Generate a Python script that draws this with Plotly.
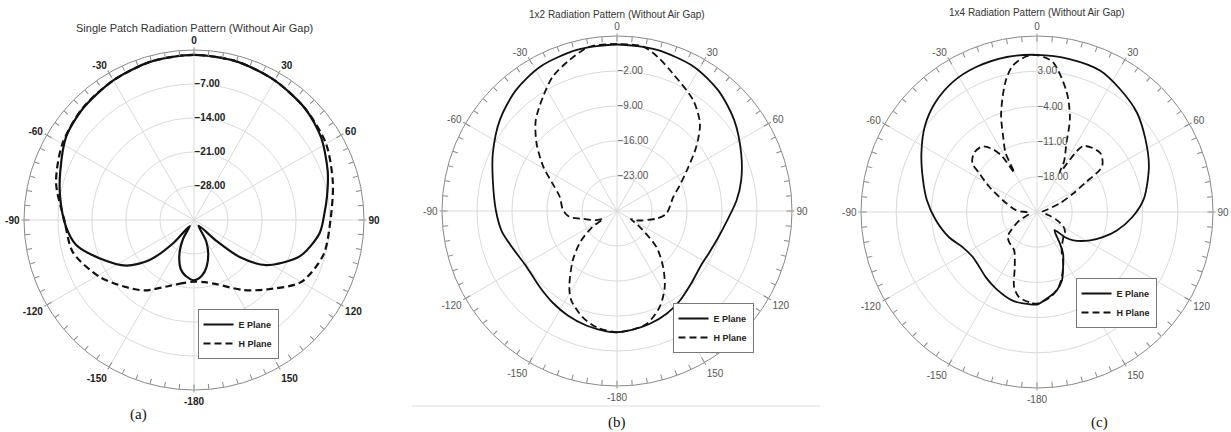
import plotly.graph_objects as go

# ---------------- data ----------------
ANG_MAJOR = [0, 30, 60, 90, 120, 150, 180, 210, 240, 270, 300, 330]
ANG_LABELS = ["0", "30", "60", "90", "120", "150", "-180", "-150", "-120", "-90", "-60", "-30"]
ANG_MINOR = list(range(0, 360, 5))

TITLES = ["Single Patch Radiation Pattern (Without Air Gap)",
          "1x2 Radiation Pattern (Without Air Gap)",
          "1x4 Radiation Pattern (Without Air Gap)"]
CAPTIONS = ["(a)", "(b)", "(c)"]
SERIES_NAMES = ["E Plane", "H Plane"]

# (a) single patch
A_RANGE = [-35, 0]
A_RTICKS = [-28, -21, -14, -7]
A_E_THETA = [-180, -172, -165, -157, -150, -144, -138, -132, -124, -112, -102, -93, -80, -70, -57,
             -45, -30, -15, 0, 15, 30, 45, 57, 70, 80, 87, 96, 109, 122, 129, 133, 141, 150, 157,
             165, 172, 180]
A_E_R = [-22.6, -23.3, -24.5, -27.3, -30.5, -33.5, -28.5, -22.7, -18.2, -14.0, -10.2, -8.6, -7.0,
         -5.7, -3.6, -2.6, -1.8, -1.2, -1.0, -1.2, -1.8, -2.6, -3.8, -5.7, -7.2, -8.1, -9.0, -12.0,
         -17.5, -22.9, -28.8, -33.5, -30.0, -27.5, -25.0, -23.4, -22.6]
A_H_THETA = [-180, -170, -160, -145, -133, -121, -105, -90, -75, -60, -45, -30, -15, 0, 15, 30, 45,
             60, 75, 90, 105, 120, 134, 145, 160, 170, 180]
A_H_R = [-22.3, -21.8, -20.6, -17.3, -15.0, -12.3, -9.2, -8.3, -5.6, -3.7, -2.5, -1.8, -1.2, -1.0,
         -1.2, -1.8, -2.6, -3.6, -5.4, -6.9, -7.4, -9.5, -14.4, -17.4, -20.9, -22.0, -22.3]

# (b) 1x2 array
B_RANGE = [-30, 5]
B_RTICKS = [-23, -16, -9, -2]
B_E_THETA = [-180, -175, -165, -155, -145, -135, -127, -120, -110, -100, -90, -76, -65, -52, -40,
             -28, -14, 0, 14, 28, 40, 52, 65, 76, 85, 95, 105, 115, 122, 135, 145, 154, 164, 174, 180]
B_E_R = [-5.75, -5.85, -6.3, -6.9, -7.6, -8.3, -8.7, -8.7, -7.9, -6.6, -5.8, -4.4, -2.6, -0.3, 1.5,
         2.7, 3.2, 3.3, 3.2, 2.7, 1.5, -0.3, -2.6, -4.4, -6.0, -7.9, -9.1, -9.8, -10.0, -9.2, -8.1,
         -7.2, -6.5, -6.0, -5.75]
B_H_THETA = [-180, -170, -162, -153, -148, -138, -130, -123, -119, -114, -103, -97, -89, -76, -67,
             -59, -50, -42, -33, -25.5, -17.5, -9.5, 0, 9, 15, 22, 34.5, 43.5, 51, 60, 68, 76, 93,
             101, 116, 120, 125, 132.5, 140.5, 148, 156, 165, 172, 180]
B_H_R = [-5.75, -6.4, -7.7, -9.9, -12.0, -16.8, -20.5, -24.1, -26.8, -25.5, -23.0, -20.4, -19.2,
         -18.2, -16.0, -12.8, -9.0, -5.7, -2.8, -0.2, 1.65, 3.3, 3.4, 3.3, 1.8, -0.3, -3.1, -5.9,
         -9.6, -13.9, -16.5, -18.4, -20.1, -22.0, -25.7, -26.8, -24.4, -19.3, -15.5, -12.0, -9.0,
         -6.7, -6.1, -5.75]

# (c) 1x4 array
C_RANGE = [-25, 10]
C_RTICKS = [-18, -11, -4, 3]
C_E_THETA = [-180, -175, -165, -152, -142, -131, -125, -115, -106, -94.5, -84, -74, -63, -52.5, -43,
             -33, -23, -11, 0, 12, 24, 34, 45, 56, 68, 83, 93, 103, 110.5, 118, 128, 132, 136, 144,
             148, 154.6, 160, 166, 174, 180]
C_E_R = [-6.6, -6.6, -6.7, -7.7, -8.5, -9.3, -9.4, -8.6, -6.8, -4.8, -3.0, -1.4, 0.8, 3.1, 4.7, 5.8,
         6.26, 6.4, 6.26, 6.1, 5.8, 4.5, 3.05, 1.0, -1.0, -3.6, -6.0, -8.7, -10.9, -13.0, -15.85,
         -17.5, -20.0, -17.25, -15.2, -12.9, -10.5, -8.9, -7.6, -6.6]
C_H_THETA = [-180, -175, -168, -163, -158, -150, -145, -138, -130, -125, -115, -100, -85, -71, -62,
             -56, -53, -47, -40, -35, -32, -30, -28, -24, -20.5, -16.4, -13, -9.4, -4, 0, 6, 14,
             19.5, 23, 28, 30, 35, 47, 55, 59, 63, 69, 78, 90, 105, 112, 119, 125, 133, 147, 153,
             159, 164, 171, 180]
C_H_R = [-6.8, -7.0, -7.7, -9.4, -13.2, -16.0, -16.5, -16.8, -17.4, -18.7, -21.2, -23.5, -20.8,
         -17.8, -14.2, -11.1, -8.9, -7.85, -8.0, -9.8, -12.0, -16.0, -11.7, -8.4, -4.6, -0.9, 2.15,
         4.5, 6.0, 6.2, 5.0, -0.5, -5.4, -10.0, -13.5, -16.0, -9.0, -7.8, -9.2, -14.0, -17.0, -20.1,
         -23.1, -24.0, -22.7, -20.8, -19.0, -18.2, -17.8, -16.0, -13.5, -11.2, -9.45, -7.85, -6.8]

# ---------------- figure ----------------
W, H = 1231, 432
SANS = "Liberation Sans, Arial, sans-serif"
SERIF = "Liberation Serif, Times New Roman, serif"

panels = [
    dict(e=(A_E_THETA, A_E_R), h=(A_H_THETA, A_H_R), rng=A_RANGE, rt=A_RTICKS,
         c=(194, 220), R=170, title_y=28, cap=(138, 414), leg=(238, 334), lw=2.2,
         tcol="#222", tw="bold", tsize=11),
    dict(e=(B_E_THETA, B_E_R), h=(B_H_THETA, B_H_R), rng=B_RANGE, rt=B_RTICKS,
         c=(617, 211), R=175, title_y=14, cap=(617, 422), leg=(713, 328), lw=1.8,
         tcol="#555", tw="normal", tsize=10),
    dict(e=(C_E_THETA, C_E_R), h=(C_H_THETA, C_H_R), rng=C_RANGE, rt=C_RTICKS,
         c=(1037, 212), R=176, title_y=12, cap=(1099, 422), leg=(1116, 303), lw=1.8,
         tcol="#555", tw="normal", tsize=10),
]

fig = go.Figure()
layout = dict(width=W, height=H, autosize=False, margin=dict(l=0, r=0, t=0, b=0),
              paper_bgcolor="white", plot_bgcolor="white", annotations=[], shapes=[])

for i, p in enumerate(panels):
    base = "polar" if i == 0 else f"polar{2 * i + 1}"
    over = f"polar{2 * i + 2}"
    leg = "legend" if i == 0 else f"legend{i + 1}"
    cx, cy = p["c"]
    R = p["R"]
    dom = dict(x=[(cx - R) / W, (cx + R) / W], y=[1 - (cy + R) / H, 1 - (cy - R) / H])
    tfont = dict(family=SANS, size=10, color=p["tcol"], weight=p["tw"])

    layout[base] = dict(
        domain=dom, bgcolor="rgba(0,0,0,0)",
        angularaxis=dict(rotation=90, direction="clockwise", tickmode="array",
                         tickvals=ANG_MAJOR, ticktext=ANG_LABELS, ticks="outside", ticklen=2,
                         tickcolor="#888", showline=True, linecolor="#888", linewidth=1,
                         gridcolor="#dadada", gridwidth=1, tickfont=tfont),
        radialaxis=dict(range=p["rng"], tickmode="array", tickvals=p["rt"], tickformat=".2f",
                        angle=90, tickangle=90, showline=False, ticks="", gridcolor="#dadada",
                        gridwidth=1, tickfont=tfont),
    )
    layout[over] = dict(
        domain=dom, bgcolor="rgba(0,0,0,0)",
        angularaxis=dict(rotation=90, direction="clockwise", tickmode="array",
                         tickvals=ANG_MINOR, ticks="inside", ticklen=5, tickcolor="#888",
                         showline=False, showgrid=False, showticklabels=False),
        radialaxis=dict(visible=False, range=p["rng"]),
    )
    layout[leg] = dict(x=p["leg"][0] / W, y=1 - p["leg"][1] / H, xanchor="center",
                       yanchor="middle", bgcolor="white", bordercolor="#777", borderwidth=1,
                       itemwidth=30, tracegroupgap=0,
                       font=dict(family=SANS, size=9, color="#222", weight="bold"))

    fig.add_trace(go.Scatterpolar(r=p["e"][1], theta=p["e"][0], mode="lines", name=SERIES_NAMES[0],
                                  line=dict(color="#111", width=p["lw"], shape="spline", smoothing=0.8),
                                  subplot=base, legend=leg))
    fig.add_trace(go.Scatterpolar(r=p["h"][1], theta=p["h"][0], mode="lines", name=SERIES_NAMES[1],
                                  line=dict(color="#111", width=p["lw"], dash="7px,4px",
                                            shape="spline", smoothing=0.8),
                                  subplot=base, legend=leg))
    fig.add_trace(go.Scatterpolar(r=[], theta=[], mode="lines", showlegend=False,
                                  hoverinfo="skip", subplot=over))

    layout["annotations"].append(dict(text=TITLES[i], x=cx / W, y=1 - p["title_y"] / H,
                                      xref="paper", yref="paper", xanchor="center",
                                      yanchor="middle", showarrow=False,
                                      font=dict(family=SANS, size=p["tsize"], color="#333")))
    layout["annotations"].append(dict(text=CAPTIONS[i], x=p["cap"][0] / W, y=1 - p["cap"][1] / H,
                                      xref="paper", yref="paper", xanchor="center",
                                      yanchor="middle", showarrow=False,
                                      font=dict(family=SERIF, size=15, color="#111")))

layout["shapes"].append(dict(type="line", xref="paper", yref="paper", x0=412 / W, x1=820 / W,
                             y0=1 - 406 / H, y1=1 - 406 / H, line=dict(color="#dddddd", width=1)))

fig.update_layout(**layout)
fig.write_html("out.html", config={"displayModeBar": False},
               post_script="document.body.style.margin='0';")
